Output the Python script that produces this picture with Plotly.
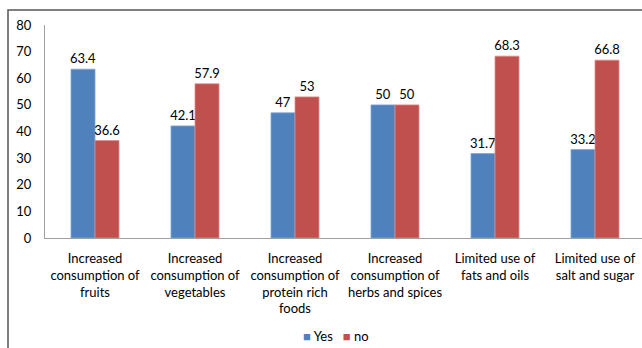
import plotly.graph_objects as go

categories = [
    "Increased<br>consumption of<br>fruits",
    "Increased<br>consumption of<br>vegetables",
    "Increased<br>consumption of<br>protein rich<br>foods",
    "Increased<br>consumption of<br>herbs and spices",
    "Limited use of<br>fats and oils",
    "Limited use of<br>salt and sugar",
]
yes_values = [63.4, 42.1, 47, 50, 31.7, 33.2]
no_values = [36.6, 57.9, 53, 50, 68.3, 66.8]
y_ticks = [0, 10, 20, 30, 40, 50, 60, 70, 80]
series_names = ["Yes", "no"]
series_colors = ["#4F81BD", "#C0504D"]

FONT = "Lato"

fig = go.Figure()
for name, vals, col, lcol in [
    (series_names[0], yes_values, series_colors[0], "#7FA6D6"),
    (series_names[1], no_values, series_colors[1], "#E08A88"),
]:
    fig.add_trace(go.Bar(
        name=name, x=categories, y=vals,
        marker=dict(color=col, line=dict(color=lcol, width=0.8)),
        text=[f"{v:g}" for v in vals], textposition="outside",
        constraintext="none", textangle=0,
        textfont=dict(color="#000000", size=13, family=FONT), cliponaxis=False,
    ))

fig.update_layout(
    width=642, height=348,
    margin=dict(l=45, r=0, t=25, b=110),
    paper_bgcolor="white", plot_bgcolor="white",
    barmode="group", bargap=0.52, bargroupgap=0,
    font=dict(family=FONT, size=13, color="#000000"),
    showlegend=False,
)
fig.update_xaxes(
    range=[-0.5, 5.47], showline=True, linecolor="#A0A0A0", linewidth=1.2,
    showgrid=False, ticks="outside", ticklen=8, tickcolor="rgba(0,0,0,0)",
    tickfont=dict(size=13, family=FONT, color="#000000"),
    tickangle=0, fixedrange=True,
)
fig.update_yaxes(
    range=[0, 80], tickvals=y_ticks, showline=True, linecolor="#A0A0A0", linewidth=1.2,
    showgrid=False, zeroline=False, ticks="",
    tickfont=dict(size=13, family=FONT, color="#000000"), ticklabelstandoff=10,
)
# legend drawn as text
legend_text = "   ".join(
    f"<span style='color:{c}'>■</span> {n}" for n, c in zip(series_names, series_colors)
)
fig.add_annotation(xref="paper", yref="paper", x=(336 - 45) / 597, y=(238 - 336) / 213,
                   xanchor="center", yanchor="middle", showarrow=False,
                   text=legend_text, font=dict(size=13, family=FONT, color="#000000"))
# outer chart border
fig.add_shape(type="rect", xref="paper", yref="paper",
              x0=(8 - 45) / 597, x1=1.1, y0=-0.6, y1=(238 - 10) / 213,
              line=dict(color="#555555", width=1.5), fillcolor="rgba(0,0,0,0)", layer="below")

fig.write_html("out.html")
